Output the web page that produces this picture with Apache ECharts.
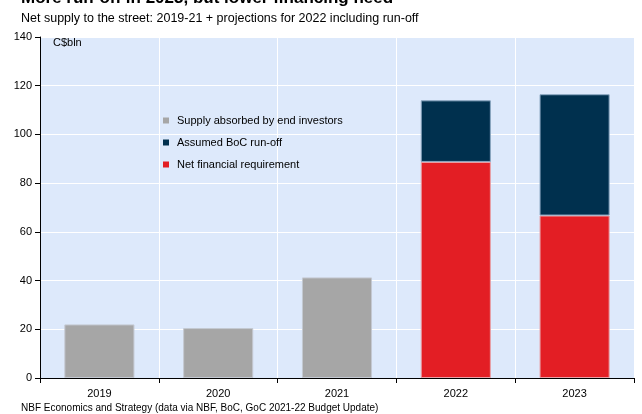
<!DOCTYPE html>
<html><head><meta charset="utf-8">
<script src="https://cdn.jsdelivr.net/npm/echarts@6/dist/echarts.min.js"></script>
<style>html,body{margin:0;padding:0;background:#fff}#c{width:642px;height:414px}</style>
</head><body><div id="c"></div>
<script>
const categories = ['2019','2020','2021','2022','2023'];
const supplyAbsorbed = [22, 20.5, 41.3, '-', '-'];
const netFinancial = ['-', '-', '-', 88.7, 66.7];
const bocRunoff = ['-', '-', '-', 25.3, 49.8];
const yTicks = [0, 20, 40, 60, 80, 100, 120, 140];

const font = 'Liberation Sans, Arial, sans-serif';
const chart = echarts.init(document.getElementById('c'), null, {renderer:'canvas'});
chart.setOption({
  animation: false,
  textStyle: {fontFamily: font},
  title: [
    {text: 'More run-off in 2023, but lower financing need', left: 16, top: -15,
     textStyle: {fontFamily: font, fontSize: 17, fontWeight: 'bold', color: '#000'}},
    {text: 'Net supply to the street: 2019-21 + projections for 2022 including run-off', left: 16, top: 7,
     textStyle: {fontFamily: font, fontSize: 12.5, fontWeight: 'normal', color: '#000'}},
    {text: 'C$bln', left: 48, top: 32,
     textStyle: {fontFamily: font, fontSize: 11, fontWeight: 'normal', color: '#000'}},
    {text: 'NBF Economics and Strategy (data via NBF, BoC, GoC 2021-22 Budget Update)', left: 16, top: 398,
     textStyle: {fontFamily: font, fontSize: 10, fontWeight: 'normal', color: '#000'}}
  ],
  legend: {
    orient: 'vertical', left: 158, top: 110, itemWidth: 6, itemHeight: 6, itemGap: 11,
    icon: 'rect',
    itemStyle: {borderWidth: 0},
    data: ['Supply absorbed by end investors', 'Assumed BoC run-off', 'Net financial requirement'],
    textStyle: {fontFamily: font, fontSize: 11, color: '#000', padding: [0, 0, 0, 3]}
  },
  grid: {left: 40, right: 8, top: 37, bottom: 36, show: true, backgroundColor: '#dde9fb', borderWidth: 0},
  xAxis: {
    type: 'category', data: categories,
    axisLine: {lineStyle: {color: '#000', width: 1}},
    axisTick: {show: true, length: 5, lineStyle: {color: '#000'}},
    axisLabel: {color: '#000', fontSize: 11, fontFamily: font, margin: 10},
    splitLine: {show: true, lineStyle: {color: '#fff', width: 1}}
  },
  yAxis: {
    type: 'value', min: yTicks[0], max: yTicks[yTicks.length-1], interval: 20,
    axisLine: {show: true, lineStyle: {color: '#000', width: 1}},
    axisTick: {show: true, length: 5, lineStyle: {color: '#000'}},
    axisLabel: {color: '#000', fontSize: 11, fontFamily: font, margin: 8},
    splitLine: {show: true, lineStyle: {color: '#fff', width: 1}}
  },
  series: [
    {name: 'Supply absorbed by end investors', type: 'bar', stack: 's', data: supplyAbsorbed, barWidth: '59%',
     itemStyle: {color: '#a6a6a6', borderColor: '#c4c9d2', borderWidth: 1}},
    {name: 'Net financial requirement', type: 'bar', stack: 's', data: netFinancial, barWidth: '59%',
     itemStyle: {color: '#e31e24', borderColor: '#e8a0a6', borderWidth: 1}},
    {name: 'Assumed BoC run-off', type: 'bar', stack: 's', data: bocRunoff, barWidth: '59%',
     itemStyle: {color: '#00304e', borderColor: '#8aa6c0', borderWidth: 1}}
  ]
});
</script></body></html>
